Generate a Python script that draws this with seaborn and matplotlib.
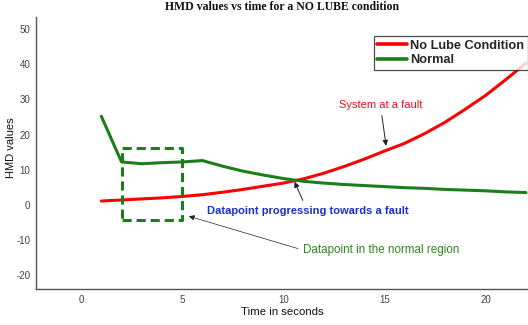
import numpy as np
import pandas as pd
import matplotlib
matplotlib.use("Agg")
import matplotlib.pyplot as plt
import seaborn as sns

time_s = [1, 2, 3, 4, 5, 6, 7, 8, 9, 10, 11, 12, 13, 14, 15, 16, 17, 18, 19, 20, 21, 22]
no_lube = [1.1, 1.4, 1.7, 2.0, 2.4, 2.9, 3.6, 4.4, 5.3, 6.2, 7.4, 9.0, 10.9, 13.0,
           15.3, 17.5, 20.3, 23.5, 27.2, 31.1, 35.6, 40.3]
normal = [25.2, 12.2, 11.7, 12.0, 12.2, 12.6, 11.0, 9.6, 8.5, 7.5, 6.7, 6.2, 5.8, 5.5,
          5.2, 4.9, 4.7, 4.4, 4.2, 4.0, 3.7, 3.5]
series_names = ["No Lube Condition", "Normal"]
series_colors = ["#ff0000", "#1a7f1a"]
xticks = [0, 5, 10, 15, 20]
yticks = [-20, -10, 0, 10, 20, 30, 40, 50]
box_x = [2, 5]
box_y = [-4.4, 16.1]

sns.set_theme(style="white")
plt.rcParams['font.family'] = ['Liberation Sans', 'DejaVu Sans']
plt.rcParams['axes.unicode_minus'] = False

fig = plt.figure(figsize=(5.28, 3.25), dpi=100)
ax = fig.add_axes([36 / 528, 1 - 289 / 325, 1 - 36 / 528, (289 - 17) / 325])

df = pd.DataFrame({"t": time_s * 2,
                   "v": no_lube + normal,
                   "s": [series_names[0]] * len(time_s) + [series_names[1]] * len(time_s)})
sns.lineplot(data=df, x="t", y="v", hue="s", palette=dict(zip(series_names, series_colors)),
             linewidth=2.2, ax=ax, legend=True)

# dashed box
ax.plot([box_x[0], box_x[1], box_x[1], box_x[0], box_x[0]],
        [box_y[0], box_y[0], box_y[1], box_y[1], box_y[0]],
        linestyle=(0, (3, 1.6)), color=series_colors[1], linewidth=2.2)

ax.set_xlim(-2.23, 22.1)
ax.set_ylim(-23.9, 53.4)
ax.set_xticks(xticks)
ax.set_yticks(yticks)
ax.tick_params(direction="in", length=4, width=0.8, colors="#555555", labelsize=7,
               labelcolor="#444444", pad=4)
for side in ["top", "right"]:
    ax.spines[side].set_visible(False)
for side in ["left", "bottom"]:
    ax.spines[side].set_color("#555555")
    ax.spines[side].set_linewidth(1.0)

ax.set_xlabel("Time in seconds", fontsize=8.2, color="#111111", labelpad=2)
ax.set_ylabel("HMD values", fontsize=8, color="#111111")
ax.yaxis.set_label_coords(-(36 - 16.5) / 492, 0.52)
ax.set_title("HMD values vs time for a NO LUBE condition", fontsize=8.5,
             family=["Liberation Serif", "DejaVu Serif"], pad=5, color="#111111",
             fontweight="semibold")

# annotations
arrowprops = dict(arrowstyle="-|>", color="#222222", lw=0.7, mutation_scale=8)
ax.annotate("System at a fault", xy=(15.1, 16.0), xytext=(14.8, 28.5),
            color="#e8101a", fontsize=8, ha="center", va="center",
            arrowprops=arrowprops)
ax.annotate("Datapoint progressing towards a fault", xy=(10.5, 7.3), xytext=(11.2, -1.8),
            color="#1a2fd0", fontsize=8, ha="center", va="center", fontweight="semibold",
            arrowprops=arrowprops)
ax.annotate("Datapoint in the normal region", xy=(5.2, -3.0), xytext=(10.95, -12.8),
            color="#2a8a1a", fontsize=8.4, ha="left", va="center",
            arrowprops=dict(arrowstyle="-|>", color="#222222", lw=0.5, mutation_scale=8,
                            relpos=(0, 0.5), shrinkA=1))

leg = ax.legend(loc="upper right", bbox_to_anchor=(1.0, 1 - 36 / 325),
                bbox_transform=fig.transFigure, frameon=True, fancybox=False,
                edgecolor="#222222", prop=dict(weight="bold", size=9.2),
                handlelength=2.3, handletextpad=0.3, borderpad=0.28,
                labelspacing=0.22, borderaxespad=0.0)
leg.get_frame().set_linewidth(0.9)
for line in leg.get_lines():
    line.set_linewidth(2.6)

fig.savefig("out.png", dpi=100)
